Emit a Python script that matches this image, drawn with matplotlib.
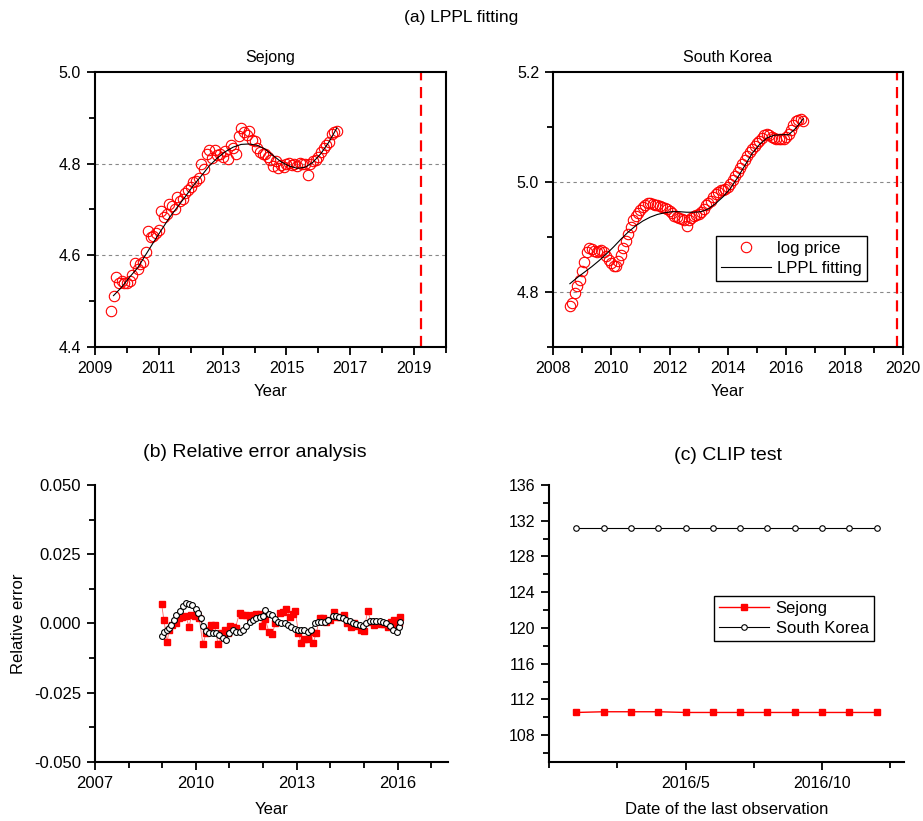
import numpy as np
import matplotlib.pyplot as plt
from matplotlib.ticker import MultipleLocator, FixedLocator

plt.rcParams['font.family'] = ['Liberation Sans', 'DejaVu Sans']
plt.rcParams['axes.unicode_minus'] = False

# ---- (a) LPPL fitting : monthly log prices ----
sejong_start = 2009.5
sejong_logp = [4.478, 4.511, 4.553, 4.539, 4.544, 4.540,
               4.540, 4.545, 4.557, 4.584, 4.570, 4.580, 4.586, 4.608, 4.653, 4.640, 4.642, 4.648,
               4.655, 4.697, 4.684, 4.690, 4.712, 4.708, 4.700, 4.728, 4.718, 4.722, 4.735, 4.742,
               4.750, 4.760, 4.762, 4.768, 4.800, 4.788, 4.820, 4.830, 4.812, 4.830, 4.818, 4.822,
               4.815, 4.828, 4.810, 4.840, 4.835, 4.820, 4.860, 4.878, 4.870, 4.862, 4.872, 4.852,
               4.850, 4.835, 4.825, 4.822, 4.822, 4.815, 4.808, 4.795, 4.805, 4.790, 4.798, 4.792,
               4.800, 4.802, 4.798, 4.800, 4.795, 4.802, 4.800, 4.800, 4.775, 4.800, 4.805, 4.808,
               4.815, 4.825, 4.835, 4.840, 4.848, 4.865, 4.868, 4.872]
# LPPL fit, quarterly
sejong_fit_start = 2009.58
sejong_fit = [4.512, 4.530, 4.552, 4.572, 4.600, 4.628, 4.655, 4.682, 4.705, 4.728,
              4.752, 4.773, 4.795, 4.812, 4.826, 4.836, 4.842, 4.843, 4.840, 4.832,
              4.818, 4.804, 4.795, 4.790, 4.792, 4.803, 4.822, 4.847, 4.878]
sejong_tc = 2019.22

korea_start = 2008.58
korea_logp = [4.775, 4.780, 4.798, 4.810, 4.822,
              4.838, 4.855, 4.872, 4.880, 4.878, 4.875, 4.872, 4.875, 4.876, 4.872, 4.866, 4.858,
              4.853, 4.847, 4.848, 4.856, 4.868, 4.880, 4.892, 4.905, 4.918, 4.930, 4.938, 4.944,
              4.949, 4.954, 4.958, 4.961, 4.962, 4.960, 4.959, 4.958, 4.956, 4.955, 4.953, 4.950,
              4.947, 4.943, 4.939, 4.936, 4.934, 4.932, 4.930, 4.920, 4.930, 4.935, 4.938, 4.940,
              4.942, 4.945, 4.950, 4.958, 4.962, 4.966, 4.972, 4.978, 4.982, 4.985, 4.986, 4.987,
              4.990, 4.996, 5.003, 5.010, 5.018, 5.025, 5.032, 5.040, 5.047, 5.054, 5.060, 5.066,
              5.070, 5.075, 5.080, 5.085, 5.088, 5.086, 5.082, 5.080, 5.079, 5.078, 5.078, 5.079,
              5.082, 5.088, 5.095, 5.103, 5.110, 5.113, 5.114, 5.111]
korea_fit_start = 2008.58
korea_fit = [4.815, 4.826, 4.836, 4.846, 4.857, 4.869, 4.882, 4.896, 4.909, 4.920,
             4.929, 4.936, 4.941, 4.944, 4.946, 4.946, 4.945, 4.945, 4.946, 4.951,
             4.961, 4.973, 4.988, 5.008, 5.030, 5.052, 5.068, 5.080, 5.085, 5.086,
             5.086, 5.098, 5.115]
korea_tc = 2019.8

# ---- (b) relative error ----
sejong_err_year = [2008.98, 2009.05, 2009.15, 2009.20, 2009.30, 2009.40, 2009.50, 2009.60, 2009.70,
                   2009.80, 2009.87, 2009.97, 2010.04, 2010.10, 2010.21, 2010.30, 2010.40, 2010.46,
                   2010.56, 2010.66, 2010.76, 2010.86, 2010.96, 2011.03, 2011.10, 2011.18, 2011.30,
                   2011.38, 2011.50, 2011.60, 2011.70, 2011.80, 2011.90, 2011.97, 2012.07, 2012.17,
                   2012.27, 2012.36, 2012.49, 2012.59, 2012.69, 2012.79, 2012.89, 2012.96, 2013.05,
                   2013.13, 2013.23, 2013.33, 2013.43, 2013.48, 2013.58, 2013.68, 2013.78, 2013.88,
                   2013.98, 2014.10, 2014.20, 2014.30, 2014.40, 2014.50, 2014.60, 2014.70, 2014.80,
                   2014.90, 2015.00, 2015.11, 2015.21, 2015.31, 2015.41, 2015.51, 2015.61, 2015.71,
                   2015.81, 2015.89, 2015.96, 2016.03, 2016.08]
sejong_err = [0.0072, 0.0012, -0.0067, -0.0024, -0.0005, 0.0003, 0.0018, 0.0022, 0.0026,
              -0.0012, 0.0030, 0.0026, 0.0034, 0.0018, -0.0075, -0.0036, -0.0024, -0.0005,
              -0.0005, -0.0075, -0.0036, -0.0022, -0.0036, -0.0010, -0.0012, -0.0015, 0.0039,
              0.0030, 0.0030, 0.0022, 0.0030, 0.0034, 0.0034, -0.0010, 0.0015, -0.0030,
              -0.0039, 0.0000, 0.0036, 0.0042, 0.0051, 0.0024, 0.0034, 0.0046, -0.0036,
              -0.0070, -0.0055, -0.0055, -0.0030, -0.0072, -0.0036, 0.0018, 0.0018, 0.0006,
              0.0014, 0.0042, 0.0024, 0.0024, 0.0030, 0.0000, -0.0012, 0.0000, -0.0010,
              -0.0024, -0.0027, 0.0046, 0.0006, -0.0005, 0.0000, -0.0002, -0.0002, -0.0012,
              0.0006, 0.0012, -0.0010, 0.0000, 0.0022]

korea_err_year = [2008.98, 2009.05, 2009.13, 2009.21, 2009.27, 2009.34, 2009.42, 2009.52, 2009.62,
                  2009.72, 2009.80, 2009.90, 2010.00, 2010.07, 2010.14, 2010.21, 2010.30, 2010.39,
                  2010.50, 2010.61, 2010.70, 2010.80, 2010.90, 2011.00, 2011.10, 2011.20, 2011.30,
                  2011.40, 2011.50, 2011.60, 2011.70, 2011.80, 2011.90, 2012.00, 2012.07, 2012.18,
                  2012.27, 2012.36, 2012.44, 2012.54, 2012.64, 2012.74, 2012.84, 2012.94, 2013.03,
                  2013.13, 2013.23, 2013.33, 2013.43, 2013.53, 2013.63, 2013.73, 2013.83, 2013.93,
                  2014.07, 2014.17, 2014.27, 2014.37, 2014.47, 2014.57, 2014.67, 2014.77, 2014.87,
                  2014.97, 2015.07, 2015.17, 2015.27, 2015.37, 2015.47, 2015.57, 2015.67, 2015.77,
                  2015.87, 2015.97, 2016.04, 2016.08]
korea_err = [-0.0046, -0.0031, -0.0022, -0.0018, -0.0006, 0.0012, 0.0030, 0.0046, 0.0063,
             0.0075, 0.0072, 0.0066, 0.0054, 0.0039, 0.0018, -0.0010, -0.0027, -0.0034,
             -0.0034, -0.0034, -0.0042, -0.0054, -0.0060, -0.0034, -0.0024, -0.0030, -0.0030,
             -0.0022, -0.0010, 0.0004, 0.0012, 0.0018, 0.0024, 0.0026, 0.0050, 0.0034,
             0.0030, 0.0016, 0.0006, 0.0002, 0.0000, -0.0006, -0.0014, -0.0020, -0.0022,
             -0.0022, -0.0024, -0.0030, -0.0024, 0.0000, 0.0006, 0.0006, 0.0006, 0.0012,
             0.0026, 0.0026, 0.0022, 0.0018, 0.0014, 0.0010, 0.0002, -0.0002, -0.0006,
             -0.0010, 0.0002, 0.0010, 0.0010, 0.0010, 0.0010, 0.0006, 0.0000, -0.0010,
             -0.0022, -0.0030, -0.0012, 0.0006]

# ---- (c) CLIP test ----
clip_month = [1, 2, 3, 4, 5, 6, 7, 8, 9, 10, 11, 12]
clip_sejong = [110.54, 110.62, 110.62, 110.62, 110.54, 110.54, 110.54, 110.54, 110.54, 110.54, 110.54, 110.54]
clip_korea = [131.14, 131.14, 131.14, 131.14, 131.14, 131.14, 131.14, 131.14, 131.14, 131.14, 131.14, 131.14]
clip_ticks = [5, 10]
clip_labels = ['2016/5', '2016/10']

RED = '#ff0000'
FS = 11.5


def style(ax, box=True):
    for s in ['left', 'bottom']:
        ax.spines[s].set_linewidth(1.5)
    for s in ['top', 'right']:
        if box:
            ax.spines[s].set_linewidth(1.5)
        else:
            ax.spines[s].set_visible(False)
    ax.tick_params(which='both', direction='out', width=1.3, labelsize=FS, pad=4,
                   top=False, right=False)
    ax.tick_params(which='major', length=6)
    ax.tick_params(which='minor', length=4)


fig = plt.figure(figsize=(9.23, 8.21), dpi=100)
fig.text(0.5, 0.979, '(a) LPPL fitting', ha='center', va='center', fontsize=12.5)

# Sejong
ax1 = fig.add_axes([0.1029, 0.5774, 0.3803, 0.3349])
x = sejong_start + np.arange(len(sejong_logp)) / 12
xf = sejong_fit_start + np.arange(len(sejong_fit)) * 0.25
for g in [4.6, 4.8]:
    ax1.axhline(g, color='#888888', lw=0.8, ls=(0, (3, 3)), zorder=0)
ax1.plot(x, sejong_logp, 'o', mfc='none', mec=RED, mew=0.8, ms=7.5)
ax1.plot(xf, sejong_fit, color='black', lw=0.8)
ax1.axvline(sejong_tc, color=RED, lw=1.6, ls=(0, (5, 3)))
ax1.set_xlim(2009, 2020)
ax1.set_ylim(4.4, 5.0)
ax1.xaxis.set_major_locator(FixedLocator([2009, 2011, 2013, 2015, 2017, 2019]))
ax1.xaxis.set_minor_locator(MultipleLocator(1))
ax1.yaxis.set_major_locator(MultipleLocator(0.2))
ax1.yaxis.set_minor_locator(MultipleLocator(0.1))
ax1.yaxis.set_major_formatter(plt.FormatStrFormatter('%.1f'))
style(ax1)
ax1.set_title('Sejong', fontsize=FS, pad=7)
ax1.set_xlabel('Year', fontsize=12, labelpad=6)

# South Korea
ax2 = fig.add_axes([0.5991, 0.5774, 0.3792, 0.3349])
x = korea_start + np.arange(len(korea_logp)) / 12
xf = korea_fit_start + np.arange(len(korea_fit)) * 0.25
for g in [4.8, 5.0]:
    ax2.axhline(g, color='#888888', lw=0.8, ls=(0, (3, 3)), zorder=0)
ax2.plot(x, korea_logp, 'o', mfc='none', mec=RED, mew=0.8, ms=7.5, label='log price')
ax2.plot(xf, korea_fit, color='black', lw=0.8, label='LPPL fitting')
ax2.axvline(korea_tc, color=RED, lw=1.6, ls=(0, (5, 3)))
ax2.set_xlim(2008, 2020)
ax2.set_ylim(4.7, 5.2)
ax2.xaxis.set_major_locator(MultipleLocator(2))
ax2.xaxis.set_minor_locator(MultipleLocator(1))
ax2.yaxis.set_major_locator(FixedLocator([4.8, 5.0, 5.2]))
ax2.yaxis.set_minor_locator(FixedLocator([4.7, 4.9, 5.1]))
ax2.yaxis.set_major_formatter(plt.FormatStrFormatter('%.1f'))
style(ax2)
ax2.set_title('South Korea', fontsize=FS, pad=7)
ax2.set_xlabel('Year', fontsize=12, labelpad=6)
leg = ax2.legend(loc='lower left', bbox_to_anchor=(0.465, 0.24), fontsize=12, fancybox=False,
                 edgecolor='black', framealpha=1, handlelength=3, borderpad=0.3,
                 labelspacing=0.3, handletextpad=0.4, borderaxespad=0)
leg.get_frame().set_linewidth(1.0)

# (b) relative error
ax3 = fig.add_axes([0.1029, 0.0719, 0.3825, 0.3374])
ax3.plot(sejong_err_year, sejong_err, '-s', color='#ff6666', lw=0.6, mfc=RED, mec=RED, ms=4)
ax3.plot(korea_err_year, korea_err, '-o', color='black', lw=0.7, mfc='white', mec='black',
         mew=0.8, ms=4.2)
ax3.set_xlim(2007, 2017.5)
ax3.set_ylim(-0.05, 0.05)
ax3.xaxis.set_major_locator(MultipleLocator(3))
ax3.xaxis.set_minor_locator(MultipleLocator(1))
ax3.yaxis.set_major_locator(MultipleLocator(0.025))
ax3.yaxis.set_minor_locator(MultipleLocator(0.0125))
ax3.yaxis.set_major_formatter(plt.FormatStrFormatter('%.3f'))
style(ax3, box=False)
ax3.tick_params(labelsize=12)
ax3.set_xlabel('Year', fontsize=12, labelpad=8)
ax3.set_ylabel('Relative error', fontsize=12, labelpad=6)
fig.text(255 / 923, 1 - 452 / 821, '(b) Relative error analysis', ha='center', va='center',
         fontsize=14)

# (c) CLIP test
ax4 = fig.add_axes([0.5948, 0.0719, 0.3846, 0.3374])
ax4.plot(clip_month, clip_sejong, '-s', color=RED, lw=1.0, ms=4.5, label='Sejong')
ax4.plot(clip_month, clip_korea, '-o', color='black', lw=0.8, mfc='white', mec='black',
         mew=0.8, ms=4, label='South Korea')
ax4.set_xlim(0, 13)
ax4.set_ylim(105, 136)
ax4.xaxis.set_major_locator(FixedLocator(clip_ticks))
ax4.set_xticklabels(clip_labels)
ax4.xaxis.set_minor_locator(FixedLocator([0, 2.5, 7.5, 12.5]))
ax4.yaxis.set_major_locator(MultipleLocator(4))
ax4.yaxis.set_minor_locator(MultipleLocator(2))
ax4.yaxis.set_major_locator(FixedLocator(list(range(108, 137, 4))))
style(ax4, box=False)
ax4.set_xlabel('Date of the last observation', fontsize=12, labelpad=8)
leg = ax4.legend(loc='lower left', bbox_to_anchor=(0.465, 0.437), fontsize=12, fancybox=False,
                 edgecolor='black', framealpha=1, handlelength=3, borderpad=0.3,
                 labelspacing=0.3, handletextpad=0.4, borderaxespad=0)
leg.get_frame().set_linewidth(1.0)
fig.text(728 / 923, 1 - 455 / 821, '(c) CLIP test', ha='center', va='center', fontsize=14)

fig.savefig('out.png', dpi=100)
